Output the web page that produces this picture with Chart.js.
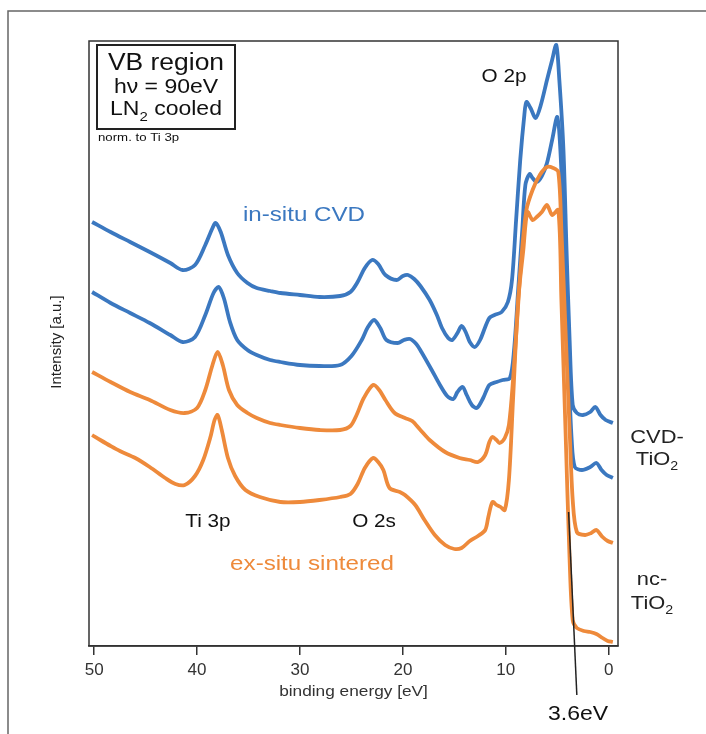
<!DOCTYPE html>
<html>
<head>
<meta charset="utf-8">
<script src="https://cdn.jsdelivr.net/npm/chart.js@4.4.1/dist/chart.umd.min.js"></script>
<style>
  html, body { margin: 0; padding: 0; background: #fff; }
  #wrap { width: 706px; height: 734px; }
</style>
</head>
<body>
<div id="wrap"><canvas id="graph" width="706" height="734"></canvas></div>
<script>
const fontFamily = '"Liberation Sans", Arial, sans-serif';
const blue = '#3b78c0';
const orange = '#ee8a3b';

// binding energy [eV] and intensity [a.u.]

// in-situ CVD, upper trace
const cvdTopE = [50.2, 48.4, 46.5, 44.6, 42.6, 41.4, 40.2, 39.2, 38.5, 38.2, 37.7, 37.0, 36.1, 35.1, 34.2, 32.9, 31.9, 30.0, 28.1, 26.1, 25.1, 24.4, 23.7, 23.0, 22.4, 21.7, 20.6, 20.0, 19.5, 18.9, 18.3, 17.4, 16.7, 16.2, 15.6, 15.2, 14.7, 14.3, 13.9, 13.5, 13.0, 12.5, 12.0, 11.6, 11.1, 10.4, 9.8, 9.4, 9.0, 8.6, 8.2, 8.0, 7.6, 7.1, 6.6, 6.0, 5.5, 5.1, 4.8, 4.4, 4.1, 3.8, 3.5, 3.1, 2.5, 1.8, 1.3, 0.8, 0.3, -0.4];
const cvdTopI = [424, 414, 404, 394, 383, 376, 381, 401, 418, 423, 414, 391, 373, 363, 358, 355, 353, 351, 349, 350, 354, 364, 378, 386, 382, 371, 366, 370, 371, 367, 360, 346, 331, 318, 308, 306, 313, 320, 314, 304, 299, 306, 319, 328, 331, 334, 344, 366, 426, 486, 531, 544, 538, 528, 541, 566, 586, 601, 566, 496, 396, 306, 241, 233, 231, 234, 239, 231, 226, 223];

// in-situ CVD, lower trace
const cvdLowE = [50.2, 48.4, 46.5, 44.6, 42.6, 41.4, 40.2, 39.2, 38.4, 37.9, 37.4, 36.8, 36.1, 35.1, 34.2, 32.9, 31.9, 30.0, 28.1, 26.1, 25.0, 24.0, 23.4, 22.8, 22.2, 21.6, 20.5, 19.9, 19.3, 18.7, 18.2, 17.2, 16.4, 15.7, 15.1, 14.7, 14.2, 13.8, 13.3, 12.8, 12.2, 11.6, 10.9, 10.3, 9.6, 9.2, 8.8, 8.4, 8.1, 7.7, 7.4, 7.0, 6.5, 6.0, 5.5, 5.0, 4.7, 4.3, 3.9, 3.6, 3.3, 2.6, 1.8, 1.2, 0.7, 0.2, -0.4];
const cvdLowI = [354, 343, 333, 323, 311, 304, 309, 331, 353, 359, 348, 324, 306, 296, 291, 286, 284, 281, 280, 281, 290, 306, 319, 326, 318, 306, 303, 306, 307, 302, 294, 276, 261, 250, 247, 254, 259, 251, 241, 238, 248, 261, 264, 266, 268, 296, 356, 416, 461, 472, 468, 464, 470, 483, 506, 529, 496, 396, 276, 206, 179, 176, 179, 183, 176, 171, 168];

// ex-situ sintered, upper trace
const ncTopE = [50.2, 48.4, 46.5, 44.6, 42.6, 41.2, 40.0, 39.2, 38.5, 38.0, 37.5, 36.9, 36.1, 35.1, 34.2, 32.9, 31.9, 30.0, 28.1, 26.1, 25.1, 24.5, 23.8, 22.9, 22.3, 21.7, 20.8, 19.8, 19.1, 18.3, 17.4, 15.9, 14.5, 13.5, 12.7, 12.0, 11.6, 11.3, 10.9, 10.6, 10.1, 9.7, 9.3, 8.9, 8.5, 8.0, 7.4, 6.7, 6.0, 5.4, 4.9, 4.6, 4.2, 3.8, 3.5, 3.1, 2.3, 1.7, 1.2, 0.6, 0.1, -0.4];
const ncTopI = [274, 264, 254, 246, 236, 233, 238, 256, 281, 294, 281, 256, 241, 233, 228, 223, 221, 218, 216, 216, 220, 231, 248, 261, 256, 246, 233, 228, 225, 216, 206, 194, 188, 186, 184, 191, 204, 209, 206, 203, 208, 221, 266, 326, 386, 436, 456, 471, 479, 478, 474, 416, 316, 216, 146, 114, 111, 113, 116, 109, 105, 103];

// ex-situ sintered, lower trace
const ncLowE = [50.2, 49.4, 48.4, 47.5, 46.0, 44.6, 43.1, 42.1, 41.2, 40.2, 39.4, 38.7, 38.3, 38.0, 37.6, 37.0, 36.3, 35.3, 33.9, 31.9, 30.0, 28.1, 26.1, 25.1, 24.4, 23.7, 22.9, 22.4, 21.9, 21.3, 20.3, 19.8, 18.8, 17.9, 16.9, 15.9, 15.0, 14.3, 13.5, 12.7, 12.0, 11.7, 11.3, 10.9, 10.5, 10.1, 9.7, 9.3, 8.8, 8.3, 7.9, 7.4, 7.0, 6.5, 6.0, 5.5, 4.9, 4.6, 4.2, 3.8, 3.5, 3.1, 2.4, 1.8, 1.2, 0.6, 0.1, -0.4];
const ncLowI = [211, 206, 200, 195, 188, 179, 168, 162, 161, 170, 186, 209, 226, 231, 216, 188, 170, 156, 149, 144, 144, 146, 149, 152, 162, 178, 188, 184, 176, 158, 154, 151, 141, 126, 111, 101, 97, 98, 105, 110, 116, 129, 144, 141, 139, 136, 166, 246, 346, 396, 434, 426, 429, 434, 441, 431, 436, 346, 216, 86, 26, 18, 15, 14, 12, 8, 5, 4];

const xTicks = [50, 40, 30, 20, 10, 0];

// 3.6 eV band-edge marker (energy, intensity) at both ends
const edgeE = [3.9, 3.1];
const edgeI = [134, -49];

function toPoints(es, is) {
    return es.map((e, i) => ({ x: e, y: is[i] }));
}

function line(label, es, is, color) {
    return {
        label: label,
        data: toPoints(es, is),
        borderColor: color,
        borderWidth: 3.8,
        pointRadius: 0,
        tension: 0.3,
        fill: false
    };
}

/**
 * Draw text horizontally stretched like the scanned figure
 */
function stretchText(ctx, str, cx, y, size, color, align) {
    ctx.save();
    ctx.font = `${size}px ${fontFamily}`;
    ctx.fillStyle = color;
    ctx.textAlign = align || 'center';
    ctx.textBaseline = 'alphabetic';
    ctx.translate(cx, y);
    ctx.scale(1.15, 1);
    ctx.fillText(str, 0, 0);
    ctx.restore();
}

/**
 * Text with a subscript part: parts = [[text, isSub], ...]
 */
function subText(ctx, parts, cx, y, size, color) {
    ctx.save();
    ctx.translate(cx, y);
    ctx.scale(1.15, 1);
    ctx.fillStyle = color;
    ctx.textBaseline = 'alphabetic';
    ctx.textAlign = 'left';
    let widths = parts.map(p => {
        ctx.font = `${p[1] ? size * 0.65 : size}px ${fontFamily}`;
        return ctx.measureText(p[0]).width;
    });
    let total = widths.reduce((a, b) => a + b, 0);
    let pos = -total / 2;
    parts.forEach((p, i) => {
        ctx.font = `${p[1] ? size * 0.65 : size}px ${fontFamily}`;
        ctx.fillText(p[0], pos, p[1] ? size * 0.28 : 0);
        pos += widths[i];
    });
    ctx.restore();
}

const decor = {
    id: 'decor',
    afterDatasetsDraw(chart) {
        const { ctx, chartArea: a, scales: { x, y } } = chart;
        ctx.save();

        // outer figure frame (top and left)
        ctx.strokeStyle = '#666';
        ctx.lineWidth = 1.5;
        ctx.beginPath();
        ctx.moveTo(8, 734);
        ctx.lineTo(8, 11);
        ctx.lineTo(706, 11);
        ctx.stroke();

        // plot frame
        ctx.strokeStyle = '#333';
        ctx.lineWidth = 1.5;
        ctx.strokeRect(a.left, a.top, a.right - a.left, a.bottom - a.top);

        // 3.6 eV marker
        ctx.strokeStyle = '#222';
        ctx.lineWidth = 1.5;
        ctx.beginPath();
        ctx.moveTo(x.getPixelForValue(edgeE[0]), y.getPixelForValue(edgeI[0]));
        ctx.lineTo(x.getPixelForValue(edgeE[1]), y.getPixelForValue(edgeI[1]));
        ctx.stroke();

        // info box
        ctx.strokeStyle = '#222';
        ctx.lineWidth = 2;
        ctx.strokeRect(97, 45, 138, 84);
        stretchText(ctx, 'VB region', 166, 70, 23, '#111');
        stretchText(ctx, 'hν = 90eV', 166, 93, 20, '#111');
        subText(ctx, [['LN', false], ['2', true], [' cooled', false]], 166, 115, 20, '#111');
        stretchText(ctx, 'norm. to Ti 3p', 98, 141, 11.5, '#111', 'left');

        // peak labels
        stretchText(ctx, 'O 2p', 504, 82, 18, '#111');
        stretchText(ctx, 'Ti 3p', 208, 527, 18, '#111');
        stretchText(ctx, 'O 2s', 374, 527, 18, '#111');
        stretchText(ctx, 'in-situ CVD', 304, 221, 21, blue);
        stretchText(ctx, 'ex-situ sintered', 312, 570, 21, orange);

        // sample labels
        stretchText(ctx, 'CVD-', 657, 443, 19, '#222');
        subText(ctx, [['TiO', false], ['2', true]], 657, 465, 19, '#222');
        stretchText(ctx, 'nc-', 652, 585, 19, '#222');
        subText(ctx, [['TiO', false], ['2', true]], 652, 609, 19, '#222');
        stretchText(ctx, '3.6eV', 578, 720, 20, '#111');

        // axis titles
        stretchText(ctx, 'binding energy [eV]', (a.left + a.right) / 2, 696, 15, '#333');
        ctx.save();
        ctx.translate(57, 342);
        ctx.rotate(-Math.PI / 2);
        ctx.font = `15px ${fontFamily}`;
        ctx.fillStyle = '#222';
        ctx.textAlign = 'center';
        ctx.textBaseline = 'middle';
        ctx.fillText('Intensity [a.u.]', 0, 0);
        ctx.restore();

        ctx.restore();
    }
};

let config = {
    type: 'line',
    data: {
        datasets: [
            line('nc-TiO2 (lower)', ncLowE, ncLowI, orange),
            line('nc-TiO2 (upper)', ncTopE, ncTopI, orange),
            line('CVD-TiO2 (lower)', cvdLowE, cvdLowI, blue),
            line('CVD-TiO2 (upper)', cvdTopE, cvdTopI, blue)
        ]
    },
    options: {
        responsive: false,
        animation: false,
        devicePixelRatio: 1,
        layout: { padding: { left: 89, right: 88, top: 41, bottom: 0 } },
        plugins: { legend: { display: false }, tooltip: { enabled: false } },
        scales: {
            x: {
                type: 'linear',
                reverse: true,
                min: -0.9,
                max: 50.5,
                afterBuildTicks: s => { s.ticks = xTicks.map(v => ({ value: v })); },
                afterFit: s => { s.height = 88; },
                grid: {
                    drawOnChartArea: false,
                    drawTicks: true,
                    tickLength: 9,
                    color: '#333',
                    lineWidth: 1.5
                },
                border: { display: true, color: '#333', width: 1.5 },
                ticks: {
                    font: { size: 17, family: fontFamily },
                    color: '#333',
                    padding: 5,
                    maxRotation: 0,
                    autoSkip: false
                }
            },
            y: {
                display: false,
                min: 0,
                max: 605
            }
        }
    },
    plugins: [decor]
};

var ctx = document.getElementById('graph').getContext('2d');
new Chart(ctx, config);
</script>
</body>
</html>
